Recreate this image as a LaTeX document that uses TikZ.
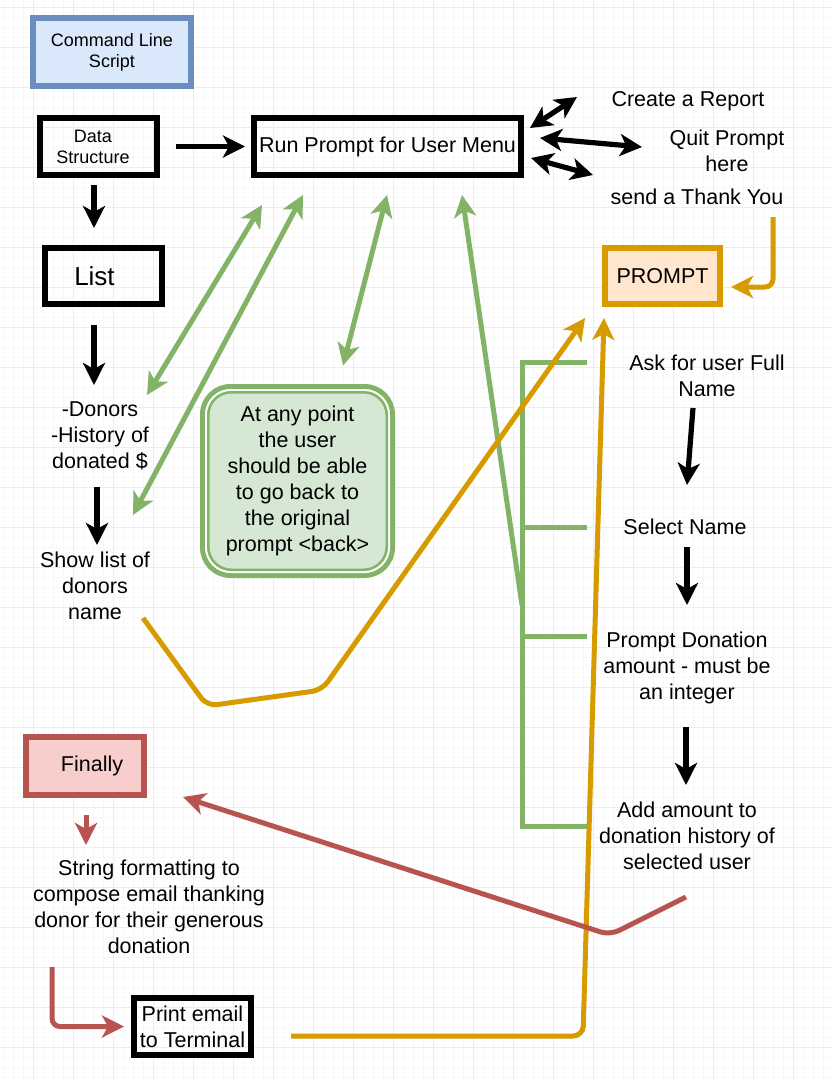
\documentclass[tikz,border=0pt]{standalone}
\usepackage{fontspec}
\setmainfont{Liberation Sans}
\usetikzlibrary{positioning,arrows.meta}

\definecolor{bluebd}{HTML}{6C8EBF}
\definecolor{bluebg}{HTML}{DAE8FC}
\definecolor{greenbd}{HTML}{82B366}
\definecolor{greenbg}{HTML}{D5E8D4}
\definecolor{orangebd}{HTML}{D79B00}
\definecolor{orangebg}{HTML}{FFE6CC}
\definecolor{redbd}{HTML}{B85450}
\definecolor{redbg}{HTML}{F8CECC}

\newcommand{\mainfs}{\fontsize{21.5}{26}\selectfont}
\newcommand{\smallfs}{\fontsize{18}{21}\selectfont}
\newcommand{\bigfs}{\fontsize{26}{30}\selectfont}

\tikzset{bigtip/.tip={Stealth[length=22pt,width=22pt,inset=6pt]}}

\begin{document}
\begin{tikzpicture}[x=1pt, y=-1pt,
plainbox/.style={rectangle, draw=black, line width=5.5pt, inner sep=0pt, outer sep=0pt, align=center, font=\mainfs},
bluebox/.style={plainbox, draw=bluebd, fill=bluebg, font=\smallfs},
orangebox/.style={plainbox, draw=orangebd, fill=orangebg},
redbox/.style={plainbox, draw=redbd, fill=redbg},
notebox/.style={rectangle, rounded corners=28pt, draw=greenbd, fill=greenbg, line width=5pt, inner sep=0pt, outer sep=0pt, align=center, font=\mainfs},
txt/.style={inner sep=0pt, align=center, font=\mainfs},
blkarrow/.style={line width=5.2pt, -bigtip},
blkboth/.style={line width=5.2pt, bigtip-bigtip},
grnline/.style={draw=greenbd, line width=5pt},
grnarrow/.style={grnline, -bigtip},
grnboth/.style={grnline, bigtip-bigtip},
orgarrow/.style={draw=orangebd, line width=5pt, -bigtip, rounded corners=10pt},
redarrow/.style={draw=redbd, line width=5pt, -bigtip, rounded corners=10pt},
]
\useasboundingbox (0,0) rectangle (832,1080);
\fill[white] (0,0) rectangle (832,1080);

%Grid
\foreach \gx in {3,13,...,833} \draw[gray!6, line width=1pt] (\gx,0) -- (\gx,1080);
\foreach \gy in {7,17,...,1080} \draw[gray!6, line width=1pt] (0,\gy) -- (832,\gy);
\foreach \gx in {33,73,...,833} \draw[gray!14, line width=1pt] (\gx,0) -- (\gx,1080);
\foreach \gy in {7,47,...,1080} \draw[gray!14, line width=1pt] (0,\gy) -- (832,\gy);

%Nodes
\node[bluebox, minimum width=158pt, minimum height=68pt] (cmd) at (112,52) {Command Line\\Script};
\node[plainbox, font=\smallfs, minimum width=117pt, minimum height=57pt] (ds) at (98.5,146.5) {Data\kern11pt\\Structure\kern11pt};
\node[plainbox, font=\bigfs, minimum width=117pt, minimum height=56pt] (list) at (103.5,276) {List\kern18pt};
\node[plainbox, minimum width=267pt, minimum height=57pt] (run) at (387.5,146.5) {Run Prompt for User Menu};
\node[orangebox, minimum width=115pt, minimum height=56pt] (prompt) at (662.5,276) {PROMPT};
\node[notebox, minimum width=190pt, minimum height=189pt] (note) at (297.5,481)
  {At any point\\the user\\should be able\\to go back to\\the original\\prompt <back>};
\node[redbox, minimum width=118pt, minimum height=58pt] (finally) at (85,766) {\kern14pt Finally};
\node[plainbox, minimum width=117pt, minimum height=57pt] (print) at (192.5,1026.5) {Print email\\to Terminal};

\node[txt] (create) at (688,101) {Create a Report};
\node[txt] (quit)   at (727,151) {Quit Prompt\\here};
\node[txt] (thank)  at (697,197) {send a Thank You};
\node[txt] (donors) at (100,436) {-Donors\\-History of\\donated \$};
\node[txt] (show)   at (95,586)  {Show list of\\donors\\name};
\node[txt] (ask)    at (707,376) {Ask for user Full\\Name};
\node[txt] (select) at (685,527) {Select Name};
\node[txt] (amount) at (687,668) {Prompt Donation\\amount - must be\\an integer};
\node[txt] (add)    at (687,836) {Add amount to\\donation history of\\selected user};
\node[txt] (string) at (149,907) {String formatting to\\compose email thanking\\donor for their generous\\donation};

%Double border of the note
\draw[white, line width=2pt, rounded corners=25pt] ([shift={(3.5,3.5)}]note.north west) rectangle ([shift={(-3.5,-3.5)}]note.south east);
\draw[greenbd, line width=2.5pt, rounded corners=23pt] ([shift={(5.75,5.75)}]note.north west) rectangle ([shift={(-5.75,-5.75)}]note.south east);

%Green bracket and back arrows
\coordinate (brk) at (522,605);
\draw[grnline] (587,362) -- (522,362) -- (522,826) -- (587,826);
\draw[grnline] (522,527) -- (587,527);
\draw[grnline] (522,636) -- (587,636);
\draw[grnboth] ([shift={(47,-41)}]donors.center) -- ([shift={(8,30)}]run.south west);
\draw[grnboth] ([shift={(38,-71)}]show.center) -- ([shift={(-84.5,20)}]run.south);
\draw[grnboth] ([shift={(45.5,-21)}]note.north) -- ([shift={(-0.5,20)}]run.south);
\draw[grnarrow] (brk) -- ([shift={(74.5,20)}]run.south);

%Orange lines
\draw[orgarrow] ([shift={(48,32)}]show.center) -- (207,706) -- (322,690) -- ([shift={(-20,14)}]prompt.south west);
\draw[orgarrow] ([shift={(40,9.5)}]print.east) -- (583,1036) -- ([shift={(-1,14)}]prompt.south west);
\draw[orgarrow, rounded corners=8pt] ([shift={(76,20)}]thank.center) |- ([shift={(11,11)}]prompt.east);

%Red lines
\draw[redarrow] ([shift={(-1,61)}]add.center) -- (610,935) -- ([shift={(39,31)}]finally.east);
\draw[redarrow] ([shift={(1,20)}]finally.south) -- ([shift={(-63,-62)}]string.center);
\draw[redarrow, rounded corners=8pt] ([shift={(-97,60)}]string.center) |- ([shift={(-10,0)}]print.west);

%Black lines
\draw[blkarrow, shorten <=19pt, shorten >=9pt] (ds.east) -- (run.west);
\draw[blkarrow, shorten <=10pt, shorten >=20pt] ([xshift=-4.5pt]ds.south) -- ([xshift=-9.5pt]list.north);
\draw[blkarrow] ([shift={(-9.5,21)}]list.south) -- ([shift={(-6,-51)}]donors.center);
\draw[blkarrow] ([shift={(-3,51)}]donors.center) -- ([shift={(2,-41)}]show.center);
\draw[blkboth] ([shift={(9,-18.5)}]run.east) -- ([shift={(-111,-4)}]create.center);
\draw[blkboth] ([shift={(19,-8.5)}]run.east) -- ([shift={(-85,-4)}]quit.center);
\draw[blkboth] ([shift={(10,11.5)}]run.east) -- ([shift={(-104,-22)}]thank.center);
\draw[blkarrow] ([shift={(-14,32)}]ask.center) -- ([shift={(2,-42)}]select.center);
\draw[blkarrow] ([shift={(2,20)}]select.center) -- ([shift={(0,-63)}]amount.center);
\draw[blkarrow] ([shift={(-1,59)}]amount.center) -- ([shift={(-1,-51)}]add.center);

\end{tikzpicture}
\end{document}
